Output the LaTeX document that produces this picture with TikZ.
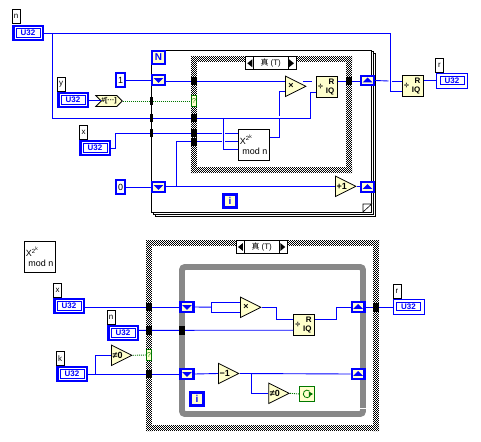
\documentclass[tikz,border=0pt]{standalone}
\usepackage{fontspec}
\setsansfont{Liberation Sans}
\newfontfamily\cjkfont{Noto Sans CJK SC}
\usepackage{tikz}
\usetikzlibrary{
  shapes.geometric, shapes.symbols, arrows.meta, backgrounds
}
\definecolor{wireblue}{RGB}{0,0,255}
\definecolor{nodecream}{RGB}{255,255,204}
\definecolor{boolgreen}{RGB}{0,120,0}
\definecolor{loopgray}{RGB}{136,136,136}
\tikzset{
  wire/.style={draw=wireblue, line width=0.9pt},
  boolwire/.style={draw=boolgreen, line width=0.9pt, dash pattern=on 1pt off 1pt},
  checkrail/.style={line width=1bp, dash pattern=on 1bp off 1bp},
  wirelabel/.style={
    draw, line width=0.7pt, fill=white, inner sep=0pt,
    minimum width=8pt, minimum height=14pt, font=\sffamily\footnotesize
  },
  u32ctrl/.style={
    draw=wireblue, line width=2.4pt, fill=white, inner sep=0pt,
    minimum width=29.5pt, minimum height=13.5pt, text=wireblue,
    font=\sffamily\bfseries\footnotesize,
    path picture={
      \draw[wireblue, line width=0.8pt]
        ([shift={(-12pt,-4.2pt)}]path picture bounding box.center) rectangle
        ([shift={(12pt,4.2pt)}]path picture bounding box.center);
    }
  },
  u32ind/.style={
    u32ctrl, line width=0.9pt, minimum width=31pt, minimum height=15pt
  },
  constbox/.style={
    draw=wireblue, line width=2pt, fill=white, inner sep=0pt,
    minimum width=9pt, minimum height=13.5pt, font=\sffamily\small
  },
  termbox/.style={
    draw=wireblue, line width=2.4pt, fill=nodecream, inner sep=0pt,
    minimum width=13pt, minimum height=13pt, text=wireblue,
    font=\sffamily\bfseries\normalsize
  },
  shiftdown/.style={
    draw=wireblue, line width=2.4pt, fill=nodecream, inner sep=0pt,
    minimum width=13pt, minimum height=9.5pt,
    path picture={
      \fill[wireblue] ([shift={(-5pt,2pt)}]path picture bounding box.center)
        -- ++(10pt,0pt) -- ++(-5pt,-5pt) -- cycle;
    }
  },
  shiftup/.style={
    draw=wireblue, line width=2.4pt, fill=nodecream, inner sep=0pt,
    minimum width=13pt, minimum height=9.5pt,
    path picture={
      \fill[wireblue] ([shift={(-5pt,-2pt)}]path picture bounding box.center)
        -- ++(10pt,0pt) -- ++(-5pt,5pt) -- cycle;
    }
  },
  tribox/.style={
    draw, line width=0.8pt, fill=nodecream, inner sep=0pt, anchor=lower side,
    isosceles triangle, isosceles triangle stretches,
    minimum width=20.5pt, minimum height=20.5pt,
    font=\sffamily\bfseries\small
  },
  divbox/.style={
    draw, line width=0.8pt, fill=nodecream, inner sep=0pt,
    minimum width=21pt, minimum height=21pt,
    label={[font=\sffamily\bfseries\small, xshift=-6.5pt]center:÷},
    label={[font=\sffamily\bfseries\footnotesize, xshift=4.5pt, yshift=5pt]center:R},
    label={[font=\sffamily\bfseries\footnotesize, xshift=3pt, yshift=-5pt]center:IQ}
  },
  subvibox/.style={
    draw, line width=0.8pt, fill=white, inner sep=0pt, align=left,
    minimum width=31pt, minimum height=31pt, font=\sffamily\small
  },
  tunnelloop/.style={fill=black, inner sep=0pt, minimum width=3pt, minimum height=8pt},
  tunnelcase/.style={fill=black, inner sep=0pt, minimum width=6pt, minimum height=9pt},
  selectbox/.style={
    draw=boolgreen, line width=0.8pt, fill=nodecream, inner sep=0pt,
    minimum width=5.5pt, minimum height=11.5pt, text=boolgreen,
    font=\sffamily\scriptsize
  },
  seltext/.style={
    draw, line width=0.7pt, fill=white, inner sep=0pt, minimum height=13pt,
    minimum width=35pt, font=\sffamily\footnotesize
  },
  selleft/.style={
    draw, line width=0.7pt, fill=white, inner sep=0pt,
    minimum width=8pt, minimum height=13pt,
    path picture={
      \fill[black] ([shift={(3pt,-4pt)}]path picture bounding box.center)
        -- ++(0pt,8pt) -- ++(-5pt,-4pt) -- cycle;
    }
  },
  selright/.style={
    draw, line width=0.7pt, fill=white, inner sep=0pt,
    minimum width=8pt, minimum height=13pt,
    path picture={
      \fill[black] ([shift={(-3pt,-4pt)}]path picture bounding box.center)
        -- ++(0pt,8pt) -- ++(5pt,-4pt) -- cycle;
    }
  },
}

\begin{document}
\begin{tikzpicture}[x=1bp, y=-1bp]
  \useasboundingbox (0,0) rectangle (481,442);

  % For loop with stacked pages
  \begin{scope}[on background layer]
    \draw[line width=0.8pt, fill=white] (155,53) rectangle (375.7,216.5);
    \draw[line width=0.8pt, fill=white] (153,51) rectangle (373.7,214.3);
    \draw[line width=0.8pt, fill=white] (151,50) rectangle (371.7,212);
    \draw[line width=0.6pt, fill=white] (363,212) -- (371.7,204) -- (363,204) -- cycle;
    % Case frames
    \foreach \rail/\offs in {0.5/0, 1.5/1, 2.5/0, 3.5/1, 4.5/0, 5.5/1} {
      \draw[checkrail] (191+\offs,56+\rail) -- (352,56+\rail);
      \draw[checkrail] (191+\offs,173-\rail) -- (352,173-\rail);
      \draw[checkrail] (191+\rail,56+\offs) -- (191+\rail,173);
      \draw[checkrail] (352-\rail,56+\offs) -- (352-\rail,173);
      \draw[checkrail] (146+\offs,240+\rail) -- (379,240+\rail);
      \draw[checkrail] (146+\offs,431-\rail) -- (379,431-\rail);
      \draw[checkrail] (146+\rail,240+\offs) -- (146+\rail,431);
      \draw[checkrail] (379-\rail,240+\offs) -- (379-\rail,431);
    }
    % While loop
    \draw[line width=6pt, loopgray, rounded corners=3pt] (182,267) rectangle (363,414);
    \draw[white, line width=0.8pt] (358,408) -- (366,408);
  \end{scope}

  % Upper diagram
  \node[wirelabel] (labN) at (16,16.5) {n};
  \node[u32ctrl] (ctrlN) at (28,33) {U32};
  \node[wirelabel] (labY) at (61,84) {y};
  \node[u32ctrl] (ctrlY) at (73,100) {U32};
  \node[wirelabel] (labX) at (83.5,132) {x};
  \node[u32ctrl] (ctrlX) at (95,148) {U32};
  \node[draw, line width=0.8pt, fill=nodecream, inner sep=0pt, signal, signal to=east,
    signal from=west, minimum width=26pt, minimum height=11pt,
    font=\sffamily\bfseries\scriptsize] (convY) at (109,101) {\#[···]};
  \node[constbox] (constOne) at (120.5,80) {1};
  \node[constbox] (constZero) at (120.5,187) {0};
  \node[termbox] (termN) at (158.5,57.5) {N};
  \node[termbox] (termI) at (230,201) {i};
  \node[shiftdown] (srA) at (158.5,80) {};
  \node[shiftdown] (srB) at (158.5,187) {};
  \node[shiftup] (srC) at (367.5,80.5) {};
  \node[shiftup] (srD) at (367.5,187) {};
  \node[tribox] (mulA) at (285,86.3) {×};
  \node[tribox] (incA) at (335,186.3) {+1};
  \node[divbox] (divA) at (327,87) {};
  \node[divbox] (divB) at (413,85.8) {};
  \node[subvibox] (subviA) at (253.7,144.7) {$\mathsf{X}^{\mathsf{2}^{\mathsf{k}}}$\\[-1pt]\ mod n};
  \node[selectbox] (selA) at (194,101) {?};
  \node[u32ind] (indR) at (452,80.5) {U32};
  \node[wirelabel] (labR) at (439.5,65) {r};
  \node[selleft] (selAl) at (249.3,63.3) {};
  \node[seltext] (selAm) at (270.7,63.3) {{\cjkfont 真} (T)};
  \node[selright] (selAr) at (292,63.3) {};

  % Lower diagram
  \node[subvibox] (iconX) at (39.7,257) {$\mathsf{X}^{\mathsf{2}^{\mathsf{k}}}$\\[-1pt]\ mod n};
  \node[wirelabel] (labXb) at (57.5,290) {x};
  \node[u32ctrl] (ctrlXb) at (69,306) {U32};
  \node[wirelabel] (labNb) at (111,317) {n};
  \node[u32ctrl] (ctrlNb) at (123,333) {U32};
  \node[wirelabel] (labK) at (60,358.5) {k};
  \node[u32ctrl] (ctrlK) at (72,374) {U32};
  \node[tribox] (neA) at (111,355.3) {≠0};
  \node[selectbox] (selB) at (149,355) {?};
  \node[shiftdown] (srE) at (187,307) {};
  \node[shiftdown] (srF) at (187,374) {};
  \node[shiftup] (srG) at (358.2,307) {};
  \node[shiftup] (srH) at (358.2,374) {};
  \node[tribox] (mulB) at (240,307.3) {×};
  \node[tribox] (decB) at (218,373.5) {−1};
  \node[tribox] (neB) at (268.3,393.3) {≠0};
  \node[divbox] (divC) at (304.3,325) {};
  \node[draw=boolgreen, line width=0.8pt, fill=nodecream, inner sep=0pt,
    minimum width=14.5pt, minimum height=14.5pt,
    path picture={
      \draw[boolgreen, line width=0.8pt]
        ([shift={(2.5pt,3pt)}]path picture bounding box.center)
        arc[start angle=50, end angle=320, radius=3.8pt];
      \fill[boolgreen] ([shift={(2pt,-2.5pt)}]path picture bounding box.center)
        -- ++(0pt,5pt) -- ++(4pt,-2.5pt) -- cycle;
    }] (stopB) at (307,394) {};
  \node[termbox] (termIb) at (197,399) {i};
  \node[u32ind] (indRb) at (408.5,306.5) {U32};
  \node[wirelabel] (labRb) at (397,291) {r};
  \node[selleft] (selBl) at (240,247) {};
  \node[seltext] (selBm) at (261.7,247) {{\cjkfont 真} (T)};
  \node[selright] (selBr) at (283.3,247) {};

  % Wire junctions
  \coordinate (nTap) at (52.5,33.3);
  \coordinate (nDrop) at (390,91.3);
  \coordinate (nLow) at (52.5,118);
  \coordinate (nUp) at (310.7,92);
  \coordinate (nSplit) at (223.5,118);
  \coordinate (xBend) at (115.5,133.3);
  \coordinate (xGapL) at (222,133.3);
  \coordinate (xGapR) at (225,133.3);
  \coordinate (zTap) at (176,186.3);
  \coordinate (zGapL) at (222,141.5);
  \coordinate (zGapR) at (225,141.5);
  \coordinate (mulUp) at (279.5,91.3);
  \coordinate (mulGapT) at (279.5,116.5);
  \coordinate (mulGapB) at (279.5,119.5);
  \coordinate (qGapL) at (388.5,81);
  \coordinate (qGapR) at (391.5,81);
  \coordinate (kTap) at (95.5,374);
  \coordinate (mulLoop) at (211.5,307.2);
  \coordinate (divBend) at (276.7,319.3);
  \coordinate (outBend) at (336.7,319.3);
  \coordinate (decTap) at (251.3,373.5);

  % Upper wires
  \draw[wire] (ctrlN.east |- nTap) -| (nDrop) -- (nDrop -| divB.west);
  \draw[wire] (nTap) |- (nLow) -| (nUp) -- (nUp -| divA.west);
  \draw[wire] (nSplit) |- ([yshift=-4.8pt]subviA.west);
  \draw[wire] (ctrlX.east) -| (xBend) -- (xGapL);
  \draw[wire] (xGapR) -- (xGapR -| subviA.west);
  \draw[wire] (zTap) |- (zGapL);
  \draw[wire] (zGapR) -- (zGapR -| subviA.west);
  \draw[wire] (ctrlY.east) -- (ctrlY.east -| convY.west);
  \draw[boolwire] (convY.east) -- (selA.west);
  \draw[wire] (constOne.east) -- (srA.west);
  \draw[wire] (srA.east |- mulA.lower side) ++(0pt,5.2pt) -- ([yshift=5.2pt]mulA.lower side);
  \draw[wire] (constZero.east) -- (srB.west);
  \draw[wire] (srB.east |- incA.lower side) -- (incA.lower side);
  \draw[wire] (incA.apex) -- (incA.apex -| srD.west);
  \draw[wire] ([yshift=7.7pt]subviA.east) -| (mulGapB);
  \draw[wire] (mulGapT) |- (mulUp -| mulA.lower side);
  \draw[wire] ([shift={(-4pt,4.8pt)}]mulA.apex) -- ([shift={(-4pt,4.8pt)}]mulA.apex -| divA.west);
  \draw[wire] ([yshift=5.7pt]divA.east) -- ([yshift=5.7pt]divA.east -| srC.west);
  \draw[wire] (srC.east) -- (qGapL);
  \draw[wire] (qGapR) -- (qGapR -| divB.west);
  \draw[wire] ([yshift=5.3pt]divB.east) -- ([yshift=5.3pt]divB.east -| indR.west);

  % Lower wires
  \draw[wire] (ctrlXb.east |- srE.west) -- (srE.west);
  \draw[wire] ([yshift=2.7pt]ctrlNb.east) -- ([yshift=-5.3pt]divC.west);
  \draw[wire] (ctrlK.east) -- (srF.west);
  \draw[wire] (kTap) |- (neA.lower side);
  \draw[boolwire] (neA.apex) -- (selB.west);
  \draw[wire] (srE.east) -- (mulLoop);
  \draw[wire] ([yshift=5pt]mulB.lower side) -| (mulLoop) |- ([yshift=-5pt]mulB.lower side);
  \draw[wire] (mulB.apex) -| (divBend) -- (divBend -| divC.west);
  \draw[wire] (divC.east |- outBend) -- (outBend) |- (srG.west);
  \draw[wire] (srG.east) -- (srG.east -| indRb.west);
  \draw[wire] (srF.east) -- (decB.lower side);
  \draw[wire] (decB.apex) -- (srH.west);
  \draw[wire] (decTap) |- (neB.lower side);
  \draw[boolwire] (neB.apex) -- (stopB.west);

  % Tunnels
  \node[tunnelloop] (tunY) at (151.7,101) {};
  \node[tunnelloop] (tunN) at (151.7,118) {};
  \node[tunnelloop] (tunX) at (151.7,133) {};
  \node[tunnelcase] (tunA) at (194,81) {};
  \node[tunnelcase] (tunB) at (194,118) {};
  \node[tunnelcase] (tunC) at (194,133) {};
  \node[tunnelcase] (tunD) at (194,142) {};
  \node[tunnelcase] (tunE) at (349,81) {};
  \node[tunnelcase] (tunF) at (149,307) {};
  \node[tunnelcase] (tunG) at (149,330.5) {};
  \node[tunnelcase] (tunH) at (149,374) {};
  \node[tunnelcase] (tunI) at (182,330.5) {};
  \node[tunnelcase] (tunJ) at (376,307.5) {};
\end{tikzpicture}
\end{document}
